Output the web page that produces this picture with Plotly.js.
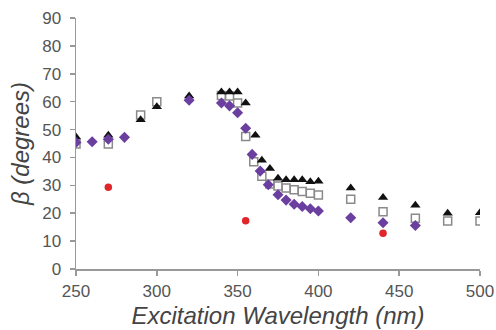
<!DOCTYPE html>
<html><head><meta charset="utf-8">
<script src="https://cdn.plot.ly/plotly-3.0.1.min.js"></script>
<style>html,body{margin:0;padding:0;background:#fff}#c{width:496px;height:330px}</style>
</head><body><div id="c"></div>
<script>
var triX = [250,270,290,300,320,340,345,350,355,361,365,370,375,380,385,390,395,400,420,440,460,480,500];
var triY = [47.3,48,53.5,58.2,62,63.5,63.5,63.5,59.5,48,39,36,32.5,32,32,32,31.3,31.5,29,25.6,22.9,20,20.2];
var sqX = [250,270,290,300,340,345,350,355,360,365,370,375,380,385,390,395,400,420,440,460,480,500];
var sqY = [44.8,44.8,55.2,60,62.2,62,59.5,47.5,38.5,33.3,30.5,29.8,29,28.4,27.8,27.2,26.5,25,20.5,18.2,17.2,17.2];
var diaX = [250,260,270,280,320,340,345,350,355,359,364,369,375,380,385,390,395,400,420,440,460];
var diaY = [45.4,45.6,46.5,47.2,60.5,59.5,58.5,56,50.5,41.1,35.1,30.2,26.6,24.7,23.2,22.4,21.6,20.8,18.4,16.6,15.6];
var redX = [270,355,440];
var redY = [29.3,17.3,12.8];

var traces = [
  {x: sqX, y: sqY, mode:'markers', type:'scatter',
   marker:{symbol:'square-open', size:8, color:'#8a8a8a', line:{width:1.5, color:'#8a8a8a'}}},
  {x: triX, y: triY, mode:'markers', type:'scatter',
   marker:{symbol:'triangle-up', size:9, color:'#111111'}},
  {x: diaX, y: diaY, mode:'markers', type:'scatter',
   marker:{symbol:'diamond', size:8.5, color:'#6b3fa0'}},
  {x: redX, y: redY, mode:'markers', type:'scatter',
   marker:{symbol:'circle', size:7.5, color:'#e0262b'}}
];
var axfont = {family:'Liberation Sans, Arial, sans-serif', size:17, color:'#555'};
var tfont = {family:'Liberation Sans, Arial, sans-serif', size:24, color:'#444'};
var layout = {
  width:496, height:330, showlegend:false,
  margin:{l:76, r:16, t:18, b:61},
  paper_bgcolor:'#fff', plot_bgcolor:'#fff',
  xaxis:{range:[250,500], tickvals:[250,300,350,400,450,500], showgrid:false, zeroline:false,
    showline:true, linecolor:'#999', linewidth:1.5, ticks:'outside', ticklen:5, tickcolor:'#999', tickwidth:1.5,
    tickfont:axfont, ticklabelstandoff:1,
    title:{text:'<i>Excitation Wavelength (nm)</i>', standoff:7, font:tfont}},
  yaxis:{range:[0,90], tickvals:[0,10,20,30,40,50,60,70,80,90], showgrid:false, zeroline:false,
    showline:true, linecolor:'#999', linewidth:1.5, ticks:'outside', ticklen:5, tickcolor:'#999', tickwidth:1.5,
    tickfont:axfont, ticklabelstandoff:5,
    title:{text:'<i>β (degrees)</i>', standoff:6, font:tfont}}
};
Plotly.newPlot('c', traces, layout, {staticPlot:true, displayModeBar:false});
</script></body></html>
